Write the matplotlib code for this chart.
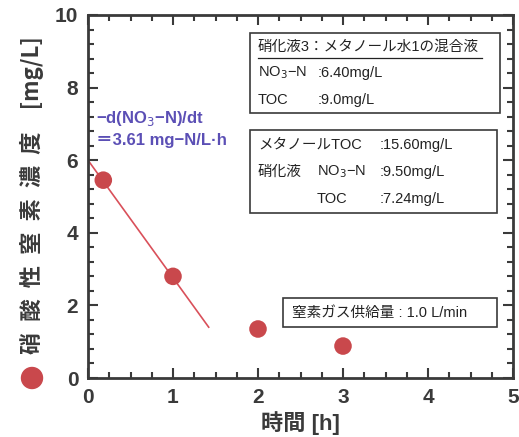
import matplotlib
matplotlib.use("Agg")
import matplotlib.pyplot as plt
from matplotlib.patches import Rectangle, Circle
from matplotlib.ticker import MultipleLocator

plt.rcParams['font.family'] = ['Liberation Sans', 'Noto Sans CJK JP', 'DejaVu Sans']

# data
time_h = [0.18, 1.0, 2.0, 3.0]
no3_n = [5.45, 2.8, 1.35, 0.88]
fit_t = [0.0, 1.42]
fit_c = [6.0, 1.4]

W, H = 519, 437
fig = plt.figure(figsize=(W / 100, H / 100), dpi=100)
ax = fig.add_axes([88 / W, 1 - 378 / H, (513 - 88) / W, (378 - 15) / H])

dark = '#3a3a3a'
red = '#c9484c'

ax.plot(fit_t, fit_c, color='#d9505a', lw=1.2, zorder=2)
ax.scatter(time_h, no3_n, s=160, color=red, edgecolors='none', zorder=3)

ax.set_xlim(0, 5)
ax.set_ylim(0, 10)
ax.xaxis.set_major_locator(MultipleLocator(1))
ax.xaxis.set_minor_locator(MultipleLocator(0.25))
ax.yaxis.set_major_locator(MultipleLocator(2))
ax.yaxis.set_minor_locator(MultipleLocator(0.4))
ax.tick_params(which='both', direction='in', top=True, right=True, color=dark, width=1.5)
ax.tick_params(which='major', length=7, labelsize=15, labelcolor=dark, pad=7)
ax.tick_params(which='minor', length=4)
for lab in ax.get_xticklabels() + ax.get_yticklabels():
    lab.set_fontweight('bold')
for sp in ax.spines.values():
    sp.set_linewidth(2)
    sp.set_color(dark)

ax.set_xlabel('時間 [h]', fontsize=16, fontweight='bold', color=dark, labelpad=3)

# y label with legend marker
fig.text(32 / W, 1 - 195 / H, '硝\u2002酸\u2002性\u2002窒\u2002素\u2002濃\u2002度\u2003[mg/L]',
         rotation=90, ha='center', va='center', fontsize=16, fontweight='bold', color=dark,
         family=['Noto Sans CJK JP', 'DejaVu Sans'])
fig.patches.append(Circle((32, H - 378), 10.5, transform=None, color=red, figure=fig))

# rate annotation
purple = '#5b4fb5'
fig.text(96 / W, 1 - 118 / H, '−d(NO$_3$−N)/dt', fontsize=12, fontweight='bold',
         color=purple, va='center')
fig.text(96 / W, 1 - 140 / H, '＝3.61 mg−N/L·h', fontsize=12, fontweight='bold',
         color=purple, va='center')


def box(x0, y0, x1, y1):
    fig.patches.append(Rectangle((x0 / W, 1 - y1 / H), (x1 - x0) / W, (y1 - y0) / H,
                                 transform=fig.transFigure, fill=True, facecolor='white',
                                 edgecolor=dark, lw=1.2, figure=fig, zorder=5))


def txt(x, y, s, **kw):
    fig.text(x / W, 1 - y / H, s, fontsize=10.5, color='#222222', va='center', zorder=6, **kw)


box(250, 33, 500, 113)
txt(258, 47, '硝化液3：メタノール水1の混合液')
fig.lines.append(plt.Line2D([258 / W, 482 / W], [1 - 58 / H, 1 - 58 / H],
                            transform=fig.transFigure, color='#222222', lw=0.9, zorder=6))
txt(258, 73, 'NO$_3$−N')
txt(318, 73, ':6.40mg/L')
txt(258, 100, 'TOC')
txt(318, 100, ':9.0mg/L')

box(250, 130, 497, 213)
txt(258, 145, 'メタノールTOC')
txt(380, 145, ':15.60mg/L')
txt(258, 172, '硝化液')
txt(317, 172, 'NO$_3$−N')
txt(380, 172, ':9.50mg/L')
txt(317, 199, 'TOC')
txt(380, 199, ':7.24mg/L')

box(283, 298, 497, 327)
txt(292, 313, '窒素ガス供給量 : 1.0 L/min')

fig.savefig('out.png', dpi=100, facecolor='white')
